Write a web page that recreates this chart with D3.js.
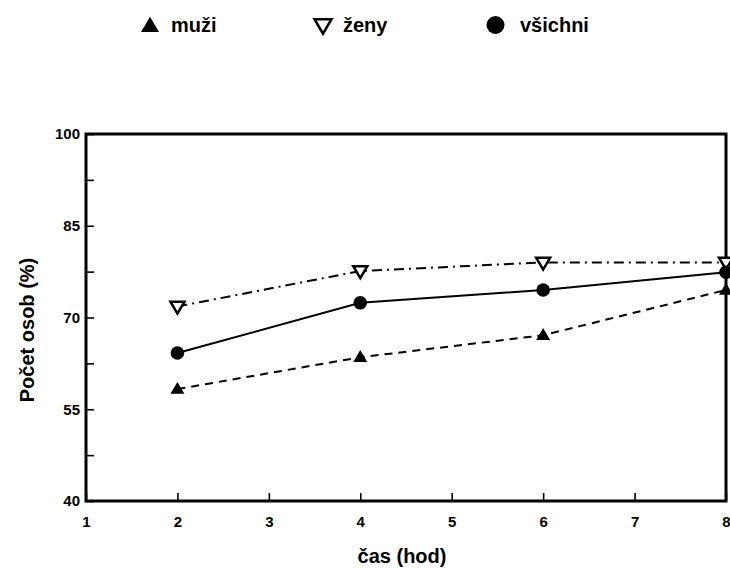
<!DOCTYPE html>
<html>
<head>
<meta charset="utf-8">
<script src="https://cdn.jsdelivr.net/npm/d3@7"></script>
<style>
  body { margin: 0; background: #fff; }
  svg { display: block; font-family: "Liberation Sans", Arial, sans-serif; font-weight: bold; }
  .axis path { display: none; }
  .axis line { stroke: #000; stroke-width: 1.6; }
  .axis text { font-size: 15px; font-weight: bold; fill: #000; font-family: "Liberation Sans", Arial, sans-serif; }
</style>
</head>
<body>
<svg id="chart" width="730" height="568"></svg>
<script>
// data
const hours = [2, 4, 6, 8];
const muzi = [58.3, 63.5, 67.1, 74.5];
const zeny = [71.8, 77.6, 79.0, 79.0];
const vsichni = [64.2, 72.4, 74.5, 77.4];
const xTicks = [1, 2, 3, 4, 5, 6, 7, 8];
const yTicks = [40, 47.5, 55, 62.5, 70, 77.5, 85, 92.5, 100];
const yLabels = [40, 55, 70, 85, 100];
const legendNames = ["muži", "ženy", "všichni"];

const svg = d3.select("#chart");
const plotLeft = 86, plotRight = 726, plotTop = 134, plotBottom = 501;

const x = d3.scaleLinear().domain([1, 8]).range([plotLeft, plotRight]);
const y = d3.scaleLinear().domain([40, 100]).range([plotBottom, plotTop]);

// axes, ticks point inward
svg.append("g")
  .attr("class", "axis")
  .attr("transform", `translate(0,${plotBottom})`)
  .call(d3.axisBottom(x).tickValues(xTicks).tickSize(-8).tickPadding(15).tickFormat(d3.format("d")));

svg.append("g")
  .attr("class", "axis")
  .attr("transform", `translate(${plotLeft},0)`)
  .call(d3.axisLeft(y).tickValues(yTicks).tickSize(-8).tickPadding(6)
    .tickFormat(d => yLabels.includes(d) ? d : ""));

// frame
svg.append("rect")
  .attr("x", plotLeft).attr("y", plotTop)
  .attr("width", plotRight - plotLeft).attr("height", plotBottom - plotTop)
  .attr("fill", "none").attr("stroke", "#000").attr("stroke-width", 3);

const line = d3.line().x((d, i) => x(hours[i])).y(d => y(d));

const series = [
  { values: zeny, dash: "10,5,2,5" },
  { values: vsichni, dash: null },
  { values: muzi, dash: "8,6" }
];

series.forEach(s => {
  svg.append("path")
    .datum(s.values)
    .attr("d", line)
    .attr("fill", "none")
    .attr("stroke", "#000")
    .attr("stroke-width", 2)
    .attr("stroke-dasharray", s.dash);
});

function triUp(g, cx, cy, w) {
  const h = w * 0.85;
  g.append("path")
    .attr("d", `M${cx},${cy - h * 0.6}L${cx + w / 2},${cy + h * 0.4}L${cx - w / 2},${cy + h * 0.4}Z`)
    .attr("fill", "#000");
}
function triDown(g, cx, cy, w) {
  const h = w * 0.85;
  g.append("path")
    .attr("d", `M${cx - w / 2},${cy - h * 0.4}L${cx + w / 2},${cy - h * 0.4}L${cx},${cy + h * 0.6}Z`)
    .attr("fill", "#fff").attr("stroke", "#000").attr("stroke-width", 2.5);
}
function dot(g, cx, cy, r) {
  g.append("circle").attr("cx", cx).attr("cy", cy).attr("r", r).attr("fill", "#000");
}

const marks = svg.append("g");
hours.forEach((h, i) => {
  triDown(marks, x(h), y(zeny[i]), 14);
  dot(marks, x(h), y(vsichni[i]), 6.8);
  triUp(marks, x(h), y(muzi[i]), 14);
});

// axis titles
svg.append("text")
  .attr("x", 402).attr("y", 563)
  .attr("text-anchor", "middle")
  .attr("font-size", 20)
  .text("čas (hod)");

svg.append("text")
  .attr("transform", "translate(34,330) rotate(-90)")
  .attr("text-anchor", "middle")
  .attr("font-size", 20)
  .text("Počet osob (%)");

// legend
const legend = svg.append("g");
triUp(legend, 150, 26, 18);
legend.append("text").attr("x", 171).attr("y", 32).attr("font-size", 20).text(legendNames[0]);
triDown(legend, 323, 25, 17);
legend.append("text").attr("x", 343).attr("y", 32).attr("font-size", 20).text(legendNames[1]);
dot(legend, 495.5, 25, 9);
legend.append("text").attr("x", 520).attr("y", 32).attr("font-size", 20).text(legendNames[2]);
</script>
</body>
</html>
